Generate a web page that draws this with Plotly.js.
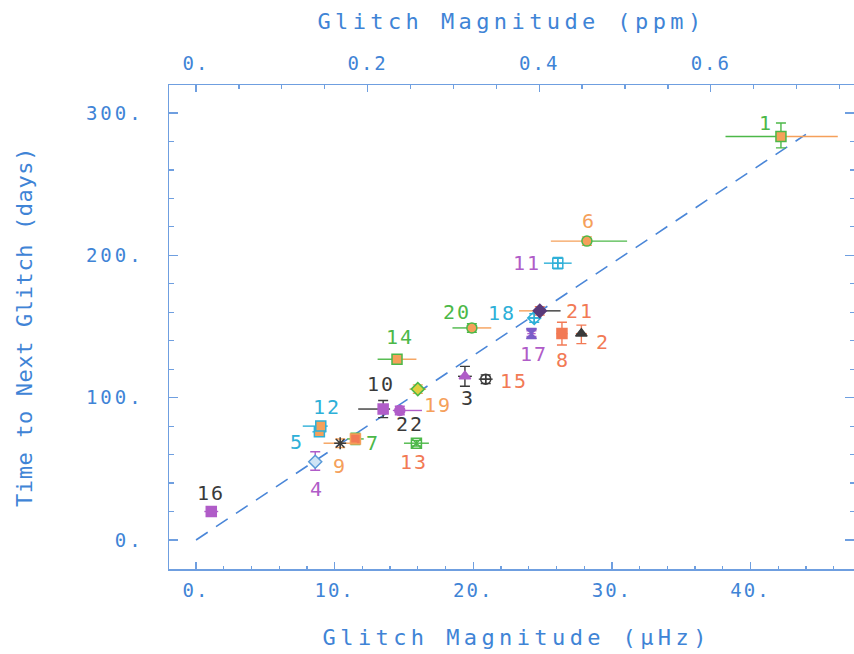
<!DOCTYPE html>
<html>
<head>
<meta charset="utf-8">
<script src="https://cdn.plot.ly/plotly-3.0.1.min.js"></script>
<style>
  html, body { margin: 0; padding: 0; background: #fff; }
  .xtick text, .x2tick text { letter-spacing: 2px; }
  .ytick text { letter-spacing: 3px; }
  .xtitle, .x2title { letter-spacing: 4.4px; }
  .ytitle { letter-spacing: 0.6px; }
  .annotation-text { letter-spacing: 2px; }
  .bottom-title .annotation-text { letter-spacing: 4.4px; }
</style>
</head>
<body>
<div id="chart" style="width:854px;height:654px;"></div>
<script>
// ---- data ----
const glitchLabels = ['1','2','3','4','5','6','7','8','9','10','11','12','13','14','15','16','17','18','19','20','21','22'];
const magnitudeUHz = [42.2, 27.8, 19.4, 8.6, 8.9, 28.2, 11.5, 26.4, 10.4, 13.5, 26.1, 9.0, 15.9, 14.5, 20.9, 1.1, 24.2, 24.4, 16.0, 19.9, 24.8, 14.7];
const daysToNext   = [283.5, 145, 115, 55, 76, 210, 71, 145, 68, 92, 194.5, 80, 68, 127, 113, 20, 145, 156, 106, 149, 161, 91];
const magErrMinus  = [4.0, 0.4, 0.5, 0.3, 0.5, 2.6, 0.6, 0.4, 1.2, 1.8, 1.0, 1.3, 0.9, 1.4, 0.5, 0.5, 0.3, 0.4, 0.6, 1.4, 1.5, 0.5];
const magErrPlus   = [4.1, 0.4, 0.5, 0.3, 0.5, 2.9, 0.6, 0.4, 1.2, 0.5, 1.0, 0.5, 0.9, 1.4, 0.5, 0.5, 0.3, 0.4, 0.6, 1.4, 1.5, 1.6];
const daysErrMinus = [8, 7, 7, 6, 3, 3, 4, 8, 3, 6, 4, 3, 2, 3, 3, 2, 2, 3, 3, 3, 3, 3];
const daysErrPlus  = [9.5, 6, 7, 7, 3, 3, 4, 8, 3, 6, 4, 3, 2, 3, 3, 2, 2, 3, 3, 3, 3, 3];
const fitLineX = [0, 44];
const fitLineY = [0, 285];
const xTickVals = [0, 10, 20, 30, 40];
const xTickText = ['0.', '10.', '20.', '30.', '40.'];
const x2TickVals = [0, 0.2, 0.4, 0.6];
const x2TickText = ['0.', '0.2', '0.4', '0.6'];
const yTickVals = [0, 100, 200, 300];
const yTickText = ['0.', '100.', '200.', '300.'];
const xTitleText = 'Glitch Magnitude (μHz)';
const x2TitleText = 'Glitch Magnitude (ppm)';
const yTitleText = 'Time to Next Glitch (days)';

// ---- styles ----
const G = '#4cb848', O = '#f5a05a', R = '#f27a55', D = '#3a3a3a', P = '#b05cc8', C = '#2eb0d8';
const axisColor = '#6f9fe0', textColor = '#3f84d6';
const labelColor = [G, R, D, P, C, O, G, R, O, D, P, C, R, G, R, D, P, C, O, G, R, D];
const labelDx = [-15, 22, 3, 2, -22, 2, 18, 1, 0, -2, -31, 6, -2, 3, 28, 0, 3, -32, 20, -15, 40, 10];
const labelDy = [14, -8, -22, -27, -10, 20, -4, -26, -23, 25, 0, 19, -19, 22, -2, 19, -20, 5, -16, 16, 0, -14];
const markerSymbol = ['square','triangle-up','triangle-up','diamond','square','circle','square','square','asterisk-open','square','square-cross-open','square','square-x-open','square','circle-cross-open','square','hourglass','diamond-cross-open','diamond','circle','diamond','circle'];
const markerFill = [O, D, P, '#cfe4f5', O, O, R, R, D, P, C, O, G, O, D, P, '#7a5cc8', C, '#e0d040', O, '#5a3a7a', P];
const markerLine = [G, D, P, '#5a9ad8', C, G, O, R, D, P, C, C, G, G, D, P, '#7a5cc8', C, G, G, '#5a3a7a', P];
const errMinusColor = [G, R, D, P, C, O, G, R, O, D, C, C, G, G, D, P, P, C, O, G, O, P];
const errPlusColor  = [O, R, D, P, C, G, G, R, O, D, C, C, G, O, D, P, P, C, O, O, D, P];
const errYColor     = [G, R, D, P, C, O, G, R, O, D, C, C, G, G, D, P, P, C, O, G, R, P];

const traces = [];
traces.push({
  x: fitLineX, y: fitLineY, mode: 'lines', xaxis: 'x', yaxis: 'y',
  line: {color: '#4a86d8', width: 1.6, dash: '14px,10px'}, hoverinfo: 'skip'
});
for (let i = 0; i < glitchLabels.length; i++) {
  traces.push({
    x: [magnitudeUHz[i]], y: [daysToNext[i]], mode: 'markers', hoverinfo: 'skip',
    marker: {size: 1, opacity: 0},
    error_x: {type: 'data', symmetric: false, array: [0], arrayminus: [magErrMinus[i]],
              color: errMinusColor[i], thickness: 1.4, width: 0}
  });
  traces.push({
    x: [magnitudeUHz[i]], y: [daysToNext[i]], mode: 'markers', hoverinfo: 'skip',
    marker: {size: 1, opacity: 0},
    error_x: {type: 'data', symmetric: false, array: [magErrPlus[i]], arrayminus: [0],
              color: errPlusColor[i], thickness: 1.4, width: 0}
  });
  traces.push({
    x: [magnitudeUHz[i]], y: [daysToNext[i]], mode: 'markers', hoverinfo: 'skip',
    marker: {symbol: markerSymbol[i], size: 10, color: markerFill[i],
             line: {color: markerLine[i], width: 1.5}},
    error_y: {type: 'data', symmetric: false, array: [daysErrPlus[i]], arrayminus: [daysErrMinus[i]],
              color: errYColor[i], thickness: 1.4, width: 5}
  });
}
// invisible trace to anchor the top (ppm) axis
traces.push({x: [0], y: [0], xaxis: 'x2', yaxis: 'y', mode: 'markers', marker: {opacity: 0}, hoverinfo: 'skip'});

const annotations = glitchLabels.map((t, i) => ({
  x: magnitudeUHz[i], y: daysToNext[i], xref: 'x', yref: 'y', text: t, showarrow: false,
  xshift: labelDx[i], yshift: labelDy[i],
  font: {family: 'DejaVu Sans Mono', size: 20, color: labelColor[i]}
}));
// bottom axis title
annotations.push({
  xref: 'paper', yref: 'paper', x: 0.508, y: 0, yanchor: 'middle', yshift: -68,
  text: xTitleText, showarrow: false, name: 'bottom-title',
  font: {family: 'DejaVu Sans Mono', size: 22, color: textColor}
});

const tickCommon = {
  ticks: 'inside', tickcolor: axisColor, tickwidth: 1.4,
  showline: true, linecolor: axisColor, linewidth: 1.5,
  showgrid: false, zeroline: false, tickmode: 'array',
  tickfont: {family: 'DejaVu Sans Mono', size: 19, color: textColor}
};

const layout = {
  width: 854, height: 654,
  margin: {l: 169, r: 0, t: 85, b: 85, pad: 0},
  paper_bgcolor: '#ffffff', plot_bgcolor: '#ffffff',
  showlegend: false, hovermode: false,
  font: {family: 'DejaVu Sans Mono', color: textColor},
  xaxis: Object.assign({}, tickCommon, {
    range: [-1.95, 47.47], tickvals: xTickVals, ticktext: xTickText, ticklen: 7,
    ticklabelstandoff: 4,
    minor: {tickmode: 'linear', tick0: 0, dtick: 2, ticks: 'inside', ticklen: 3.5, tickcolor: axisColor, tickwidth: 1.2}
  }),
  xaxis2: Object.assign({}, tickCommon, {
    overlaying: 'x', side: 'top', anchor: 'y',
    range: [-0.03147, 0.7669], tickvals: x2TickVals, ticktext: x2TickText, ticklen: 7,
    ticklabelstandoff: 6,
    minor: {tickmode: 'linear', tick0: 0, dtick: 0.05, ticks: 'inside', ticklen: 3.5, tickcolor: axisColor, tickwidth: 1.2},
    title: {text: x2TitleText, font: {family: 'DejaVu Sans Mono', size: 22, color: textColor}, standoff: 16}
  }),
  yaxis: Object.assign({}, tickCommon, {
    range: [-20.4, 319.7], tickvals: yTickVals, ticktext: yTickText, ticklen: 9,
    mirror: 'ticks', ticklabelstandoff: 20,
    minor: {tickmode: 'linear', tick0: 0, dtick: 20, ticks: 'inside', ticklen: 4.5, tickcolor: axisColor, tickwidth: 1.2},
    title: {text: yTitleText, font: {family: 'DejaVu Sans Mono', size: 22, color: textColor}, standoff: 47}
  }),
  annotations: annotations
};

Plotly.newPlot('chart', traces, layout, {staticPlot: true, displayModeBar: false}).then(() => {
  // give the bottom title annotation the same letter spacing as the other axis titles
  const anns = document.querySelectorAll('g.annotation');
  const last = anns[anns.length - 1];
  if (last) last.classList.add('bottom-title');
});
</script>
</body>
</html>
